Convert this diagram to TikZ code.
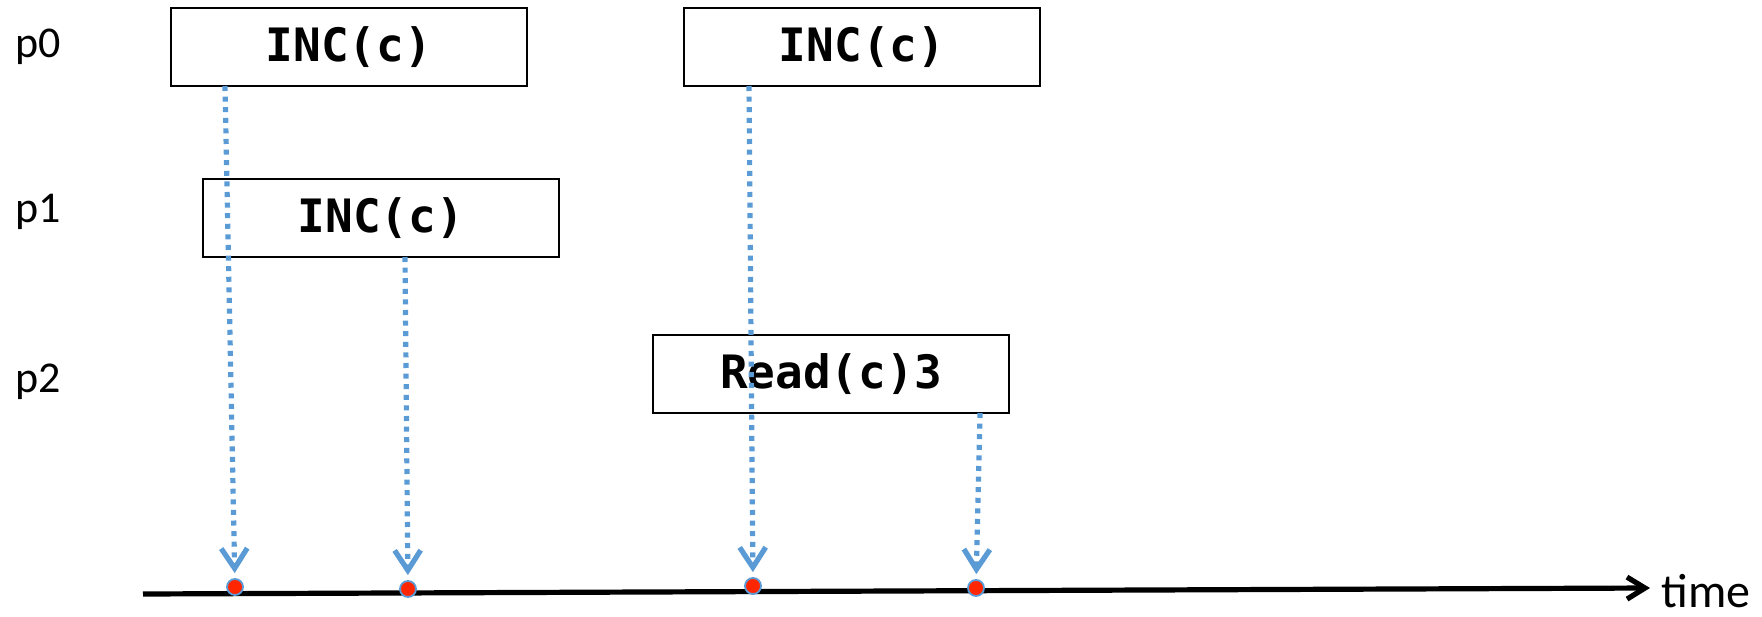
\documentclass[tikz,border=0pt]{standalone}
\usepackage{fontspec}
\setmainfont{Carlito}
\setmonofont{DejaVu Sans Mono}
\usetikzlibrary{arrows.meta}
\definecolor{callblue}{RGB}{91,155,213}
\definecolor{pointred}{RGB}{255,38,0}

\begin{document}
\begin{tikzpicture}[
      x=0.5pt, y=-0.5pt,
      op/.style={draw, line width=1.2pt, minimum width=178pt, minimum height=39pt,
        inner sep=0pt, font=\fontsize{23}{23}\selectfont\ttfamily\bfseries},
      proc/.style={anchor=base west, inner sep=0pt, font=\fontsize{22}{22}\selectfont},
      lin/.style={callblue, line width=2.6pt, dash pattern=on 2.5pt off 2.8pt,
        -{Straight Barb[length=10pt,width=13pt]}, shorten >=2.5pt},
      pt/.style={circle, fill=pointred, draw=callblue, line width=0.9pt,
        inner sep=0pt, minimum size=8pt}
    ]
      \useasboundingbox (0,0) rectangle (1762,616);

      % processes
      \node[proc] (p0) at (15,57) {p0};
      \node[proc] (p1) at (15,222) {p1};
      \node[proc] (p2) at (15,392) {p2};

      % operations
      \node[op] (inc0a) at (349,47) {INC(c)};
      \node[op] (inc0b) at (862,47) {INC(c)};
      \node[op] (inc1) at (381,218) {INC(c)};
      \node[op] (read2) at (831,374) {Read(c)3};

      % time axis
      \coordinate (t0) at (143,594);
      \coordinate (t1) at (1650,588);
      \draw[line width=2.6pt, -{Straight Barb[length=9pt,width=11pt]}] (t0) -- (t1);
      \node[anchor=base west, inner sep=0pt, font=\fontsize{24}{24}\selectfont]
        (time) at (1661,607) {time};

      % linearization points
      \node[pt] (l1) at (235,587) {};
      \node[pt] (l2) at (408,589) {};
      \node[pt] (l3) at (753,586) {};
      \node[pt] (l4) at (976,588) {};

      \coordinate (s1) at (225,86);
      \coordinate (s2) at (405,257);
      \coordinate (s3) at (749,86);
      \coordinate (s4) at (980,413);
      \draw[lin] (s1) -- (l1);
      \draw[lin] (s2) -- (l2);
      \draw[lin] (s3) -- (l3);
      \draw[lin] (s4) -- (l4);
    \end{tikzpicture}
\end{document}
